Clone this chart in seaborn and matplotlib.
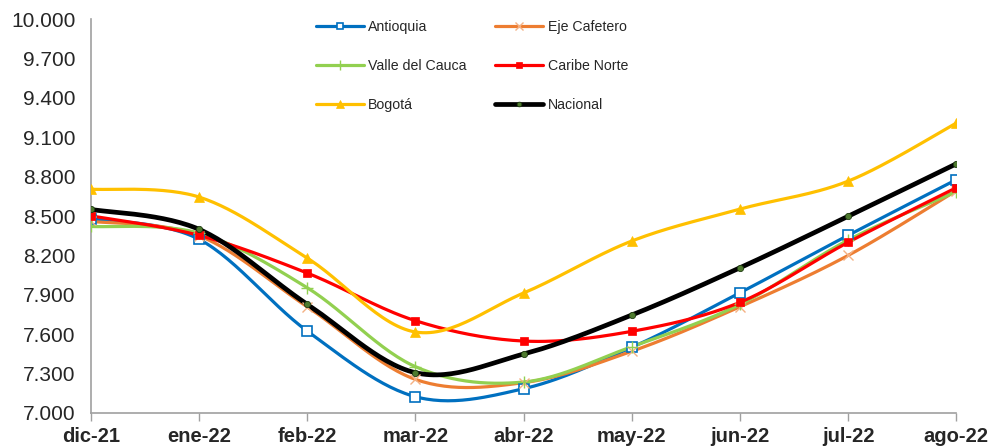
import numpy as np
import pandas as pd
import matplotlib
matplotlib.use("Agg")
import matplotlib.pyplot as plt
import seaborn as sns
from matplotlib.lines import Line2D
from matplotlib.ticker import FuncFormatter

months = ["dic-21", "ene-22", "feb-22", "mar-22", "abr-22", "may-22", "jun-22", "jul-22", "ago-22"]
antioquia = [8480, 8323, 7624, 7124, 7185, 7500, 7916, 8353, 8777]
eje_cafetero = [8460, 8350, 7809, 7256, 7231, 7470, 7809, 8200, 8693]
valle = [8421, 8370, 7954, 7353, 7236, 7505, 7827, 8317, 8686]
caribe = [8502, 8353, 8066, 7703, 7548, 7622, 7843, 8300, 8716]
bogota = [8705, 8645, 8180, 7617, 7914, 8310, 8553, 8766, 9208]
nacional = [8551, 8399, 7828, 7307, 7449, 7746, 8106, 8498, 8898]

series = [
    ("Antioquia", antioquia, dict(color="#0070C0", lw=2.3, marker="s", ms=6.5, mfc="white", mec="#0070C0", mew=1.2)),
    ("Eje Cafetero", eje_cafetero, dict(color="#ED7D31", lw=2.3, marker="x", ms=7.5, mfc="none", mec="#F4B183", mew=1.0)),
    ("Valle del Cauca", valle, dict(color="#92D050", lw=2.3, marker="+", ms=9, mfc="none", mec="#92D050", mew=1.0)),
    ("Caribe Norte", caribe, dict(color="#FF0000", lw=2.3, marker="s", ms=6, mfc="#FF0000", mec="#FF0000", mew=0.5)),
    ("Bogotá", bogota, dict(color="#FFC000", lw=2.3, marker="^", ms=7, mfc="#FFC000", mec="#FFC000", mew=0.5)),
    ("Nacional", nacional, dict(color="black", lw=3.4, marker="o", ms=4.5, mfc="#4E7A2E", mec="#1E3A10", mew=0.6)),
]


def smooth(y, n=30):
    """Catmull-Rom style bezier smoothing (like spreadsheet smoothed lines)."""
    y = np.asarray(y, dtype=float)
    x = np.arange(len(y), dtype=float)
    P = np.column_stack([x, y])
    xs, ys = [], []
    for i in range(len(P) - 1):
        p0 = P[i - 1] if i > 0 else P[i]
        p1 = P[i]
        p2 = P[i + 1]
        p3 = P[i + 2] if i + 2 < len(P) else P[i + 1]
        c1 = p1 + (p2 - p0) / 6.0
        c2 = p2 - (p3 - p1) / 6.0
        t = np.linspace(0, 1, n, endpoint=(i == len(P) - 2))[:, None]
        b = (1 - t) ** 3 * p1 + 3 * (1 - t) ** 2 * t * c1 + 3 * (1 - t) * t ** 2 * c2 + t ** 3 * p2
        xs.append(b[:, 0]); ys.append(b[:, 1])
    return np.concatenate(xs), np.concatenate(ys)


sns.set_theme(style="white")
plt.rcParams["font.family"] = ["Liberation Sans", "DejaVu Sans"]

fig = plt.figure(figsize=(9.94, 4.46), dpi=100)
ax = fig.add_axes([0.0915, 0.074, 0.8705, 0.883])

handles = {}
for name, vals, st in series:
    sx, sy = smooth(vals)
    df = pd.DataFrame({"x": sx, "y": sy})
    sns.lineplot(data=df, x="x", y="y", ax=ax, color=st["color"], lw=st["lw"],
                 sort=False, estimator=None, zorder=3)
    pts = pd.DataFrame({"x": np.arange(len(vals)), "y": vals})
    ax.plot(pts["x"], pts["y"], ls="none", marker=st["marker"], ms=st["ms"],
            mfc=st["mfc"], mec=st["mec"], mew=st["mew"], zorder=4)
    handles[name] = Line2D([0], [0], color=st["color"], lw=st["lw"], marker=st["marker"],
                           ms=st["ms"] * 0.75, mfc=st["mfc"], mec=st["mec"], mew=st["mew"], label=name)

ax.set_xlim(0, len(months) - 1)
ax.set_ylim(7000, 10000)
ax.set_yticks(np.arange(7000, 10001, 300))
ax.yaxis.set_major_formatter(FuncFormatter(lambda v, p: f"{v/1000:.3f}"))
ax.set_xticks(range(len(months)))
ax.set_xticklabels(months, fontweight="bold", fontsize=14.5)
ax.tick_params(axis="y", labelsize=15, length=0, pad=11)
ax.tick_params(axis="x", length=6, width=1, color="#A0A0A0", direction="out", pad=4, bottom=True)
ax.set_xlabel(""); ax.set_ylabel("")
for s in ["top", "right"]:
    ax.spines[s].set_visible(False)
for s in ["left", "bottom"]:
    ax.spines[s].set_color("#A0A0A0")
    ax.spines[s].set_linewidth(1.2)

order = ["Antioquia", "Valle del Cauca", "Bogotá", "Eje Cafetero", "Caribe Norte", "Nacional"]
leg = fig.legend(handles=[handles[k] for k in order], ncol=2, loc="upper left",
                 bbox_to_anchor=(0.305, 0.983),
                 frameon=False, fontsize=10.2, handlelength=3.4, labelspacing=1.75,
                 columnspacing=2.0, handletextpad=0.3)

fig.savefig("out.png", dpi=100)
